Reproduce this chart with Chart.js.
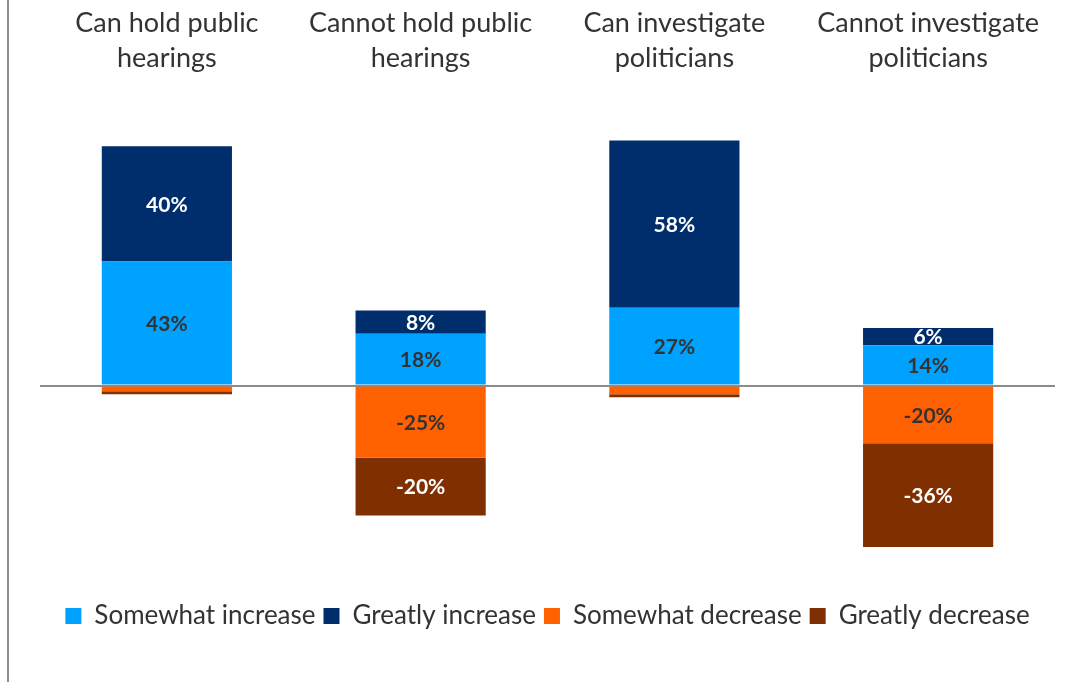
<!DOCTYPE html>
<html>
<head>
<meta charset="utf-8">
<script src="https://cdn.jsdelivr.net/npm/chart.js@4.4.0/dist/chart.umd.min.js"></script>
<style>
html,body{margin:0;padding:0;background:#fff;}
#wrap{position:relative;width:1075px;height:682px;}
#vline{position:absolute;left:7px;top:0;width:2px;height:682px;background:#8c8c8c;}
canvas{position:absolute;left:0;top:0;}
</style>
</head>
<body>
<div id="wrap"><div id="vline"></div><canvas id="c" width="1075" height="682"></canvas></div>
<script>
const categories = [["Can hold public","hearings"],["Cannot hold public","hearings"],["Can investigate","politicians"],["Cannot investigate","politicians"]];
const somewhatIncrease = [43, 18, 27, 14];
const greatlyIncrease = [40, 8, 58, 6];
const somewhatDecrease = [-2, -25, -3, -20];
const greatlyDecrease = [-1, -20, -1, -36];
const seriesNames = ["Somewhat increase","Greatly increase","Somewhat decrease","Greatly decrease"];
const seriesColors = ["#00A2FF","#002D6B","#FF6000","#7F2F00"];
const labelColors = ["#333333","#ffffff","#333333","#ffffff"];

const FONT = "Lato, 'Open Sans', sans-serif";

const valueLabels = {
  id:'valueLabels',
  afterDatasetsDraw(chart){
    const ctx = chart.ctx;
    ctx.save();
    ctx.font = "bold 21px " + FONT;
    ctx.textAlign = 'center';
    ctx.textBaseline = 'middle';
    chart.data.datasets.forEach((ds, di) => {
      const meta = chart.getDatasetMeta(di);
      meta.data.forEach((bar, i) => {
        const v = ds.data[i];
        if (Math.abs(v) < 5) return;
        const p = bar.getProps(['x','y','base'], true);
        ctx.fillStyle = labelColors[di];
        ctx.fillText(v + '%', p.x, (p.y + p.base)/2 + 1);
      });
    });
    ctx.restore();
  }
};

new Chart(document.getElementById('c'), {
  type: 'bar',
  data: {
    labels: categories,
    datasets: [somewhatIncrease, greatlyIncrease, somewhatDecrease, greatlyDecrease].map((d, i) => ({
      label: seriesNames[i],
      data: d,
      backgroundColor: seriesColors[i],
      borderWidth: 0,
      categoryPercentage: 1,
      barPercentage: 0.513
    }))
  },
  options: {
    responsive: false,
    animation: false,
    layout: { padding: { left: 40, right: 20, top: 2, bottom: 43 } },
    plugins: {
      legend: {
        position: 'bottom',
        labels: {
          font: { family: FONT, size: 26 },
          color: '#333333',
          boxWidth: 16,
          boxHeight: 16,
          padding: 8
        }
      },
      tooltip: { enabled: false }
    },
    scales: {
      x: {
        position: 'top',
        stacked: true,
        grid: { display: false },
        border: { display: false },
        ticks: { font: { family: FONT, size: 27, lineHeight: 1.3 }, color: '#333333', padding: 4 }
      },
      y: {
        stacked: true,
        min: -72.6,
        max: 103.1,
        ticks: { display: false, stepSize: 10 },
        border: { display: false },
        grid: {
          drawTicks: false,
          lineWidth: 2,
          color: (c) => (c.tick && c.tick.value === 0) ? '#8c8c8c' : 'rgba(0,0,0,0)'
        }
      }
    }
  },
  plugins: [valueLabels]
});
</script>
</body>
</html>
